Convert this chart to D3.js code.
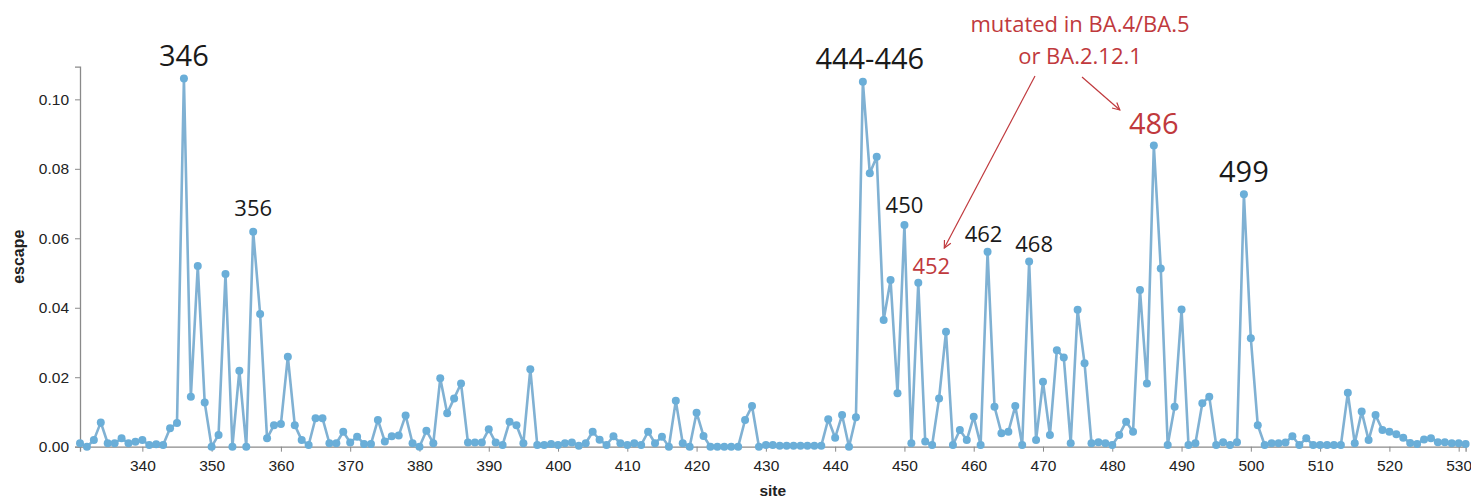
<!DOCTYPE html>
<html>
<head>
<meta charset="utf-8">
<script src="https://cdn.jsdelivr.net/npm/d3@7"></script>
<style>
  html, body { margin: 0; padding: 0; background: #fff; }
  svg { display: block; }
</style>
</head>
<body>
<svg id="chart" width="1471" height="498"></svg>
<script>
// ---- DATA ----
const sites = d3.range(331, 532);
const escapeValues = [
  0.0010, 0.0000, 0.0019, 0.0070, 0.0010, 0.0010, 0.0024, 0.0010, 0.0014, 0.0019, // 331-340
  0.0005, 0.0007, 0.0005, 0.0053, 0.0068, 0.1060, 0.0144, 0.0520, 0.0127, 0.0000, // 341-350
  0.0034, 0.0497, 0.0000, 0.0219, 0.0000, 0.0619, 0.0382, 0.0024, 0.0062, 0.0065, // 351-360
  0.0259, 0.0062, 0.0019, 0.0005, 0.0082, 0.0082, 0.0010, 0.0010, 0.0043, 0.0012, // 361-370
  0.0029, 0.0008, 0.0008, 0.0077, 0.0015, 0.0030, 0.0032, 0.0090, 0.0010, 0.0000, // 371-380
  0.0046, 0.0010, 0.0197, 0.0096, 0.0139, 0.0182, 0.0012, 0.0012, 0.0012, 0.0050, // 381-390
  0.0012, 0.0005, 0.0072, 0.0062, 0.0010, 0.0223, 0.0005, 0.0005, 0.0008, 0.0005, // 391-400
  0.0010, 0.0012, 0.0003, 0.0010, 0.0043, 0.0020, 0.0005, 0.0030, 0.0010, 0.0005, // 401-410
  0.0010, 0.0005, 0.0043, 0.0010, 0.0029, 0.0000, 0.0132, 0.0010, 0.0000, 0.0098, // 411-420
  0.0031, 0.0000, 0.0000, 0.0000, 0.0000, 0.0000, 0.0077, 0.0117, 0.0000, 0.0005, // 421-430
  0.0005, 0.0003, 0.0003, 0.0003, 0.0003, 0.0003, 0.0003, 0.0003, 0.0079, 0.0026, // 431-440
  0.0091, 0.0000, 0.0085, 0.1051, 0.0787, 0.0835, 0.0365, 0.0480, 0.0154, 0.0638, // 441-450
  0.0010, 0.0472, 0.0015, 0.0005, 0.0139, 0.0331, 0.0005, 0.0048, 0.0019, 0.0086, // 451-460
  0.0005, 0.0561, 0.0115, 0.0039, 0.0043, 0.0117, 0.0005, 0.0533, 0.0019, 0.0187, // 461-470
  0.0034, 0.0278, 0.0257, 0.0010, 0.0394, 0.0240, 0.0010, 0.0013, 0.0010, 0.0005, // 471-480
  0.0034, 0.0072, 0.0043, 0.0451, 0.0182, 0.0867, 0.0513, 0.0005, 0.0115, 0.0395, // 481-490
  0.0005, 0.0010, 0.0125, 0.0144, 0.0005, 0.0013, 0.0005, 0.0013, 0.0727, 0.0312, // 491-500
  0.0062, 0.0005, 0.0010, 0.0010, 0.0012, 0.0030, 0.0005, 0.0024, 0.0005, 0.0005, // 501-510
  0.0005, 0.0005, 0.0005, 0.0155, 0.0010, 0.0101, 0.0019, 0.0091, 0.0048, 0.0043, // 511-520
  0.0036, 0.0026, 0.0011, 0.0008, 0.0021, 0.0024, 0.0013, 0.0013, 0.0010, 0.0010, // 521-530
  0.0008                                                                          // 531
];
const xTicks = [340, 350, 360, 370, 380, 390, 400, 410, 420, 430, 440, 450, 460, 470, 480, 490, 500, 510, 520, 530];
const yTicks = [0.00, 0.02, 0.04, 0.06, 0.08, 0.10];
const xDomain = [331, 531];
const yDomain = [0, 0.1094];

// annotated peaks
const labelSites = [346, 356, 445, 450, 452, 462, 468, 486, 499];
const labelTexts = ["346", "356", "444-446", "450", "452", "462", "468", "486", "499"];
const labelMutated = [false, false, false, false, true, false, false, true, false];
const noteLines = ["mutated in BA.4/BA.5", "or BA.2.12.1"];
const noteTargets = [452, 486];

// ---- LAYOUT ----
const svg = d3.select("#chart");
const mLeft = 80, mRight = 1465.6, mTop = 66.7, mBottom = 446.7;

const x = d3.scaleLinear().domain(xDomain).range([mLeft, mRight]);
const y = d3.scaleLinear().domain(yDomain).range([mBottom, mTop]);

const data = sites.map((s, i) => ({ site: s, v: escapeValues[i] }));

const axisColor = "#8a8a8a";
const tickFont = "'Liberation Sans', Arial, Helvetica, sans-serif";

// x axis
const gx = svg.append("g").attr("transform", `translate(0,${mBottom})`)
  .call(d3.axisBottom(x).tickValues(xTicks).tickFormat(d3.format("d")).tickSizeOuter(0).tickSize(5).tickPadding(8));
gx.select(".domain").attr("stroke", axisColor).attr("stroke-width", 1.3);
gx.selectAll(".tick line").attr("stroke", axisColor);
gx.selectAll(".tick text").attr("fill", "#222").style("font-family", tickFont).style("font-size", "15.5px");

// y axis
const gy = svg.append("g").attr("transform", `translate(${mLeft},0)`)
  .call(d3.axisLeft(y).tickValues(yTicks).tickFormat(d3.format(".2f")).tickSizeOuter(0).tickSize(5).tickPadding(6));
gy.select(".domain").attr("stroke", axisColor).attr("stroke-width", 1.3);
gy.selectAll(".tick line").attr("stroke", axisColor);
gy.selectAll(".tick text").attr("fill", "#222").style("font-family", tickFont).style("font-size", "15.5px");

// axis titles
svg.append("text").attr("x", (mLeft + mRight) / 2).attr("y", 496)
  .attr("text-anchor", "middle").style("font-family", tickFont).style("font-size", "15.5px")
  .style("font-weight", "bold").attr("fill", "#222").text("site");
svg.append("text").attr("transform", `translate(24,${(mTop + mBottom) / 2}) rotate(-90)`)
  .attr("text-anchor", "middle").style("font-family", tickFont).style("font-size", "16px")
  .style("font-weight", "bold").attr("fill", "#222").text("escape");

// line + points
const line = d3.line().x(d => x(d.site)).y(d => y(d.v));
svg.append("path").datum(data).attr("d", line)
  .attr("fill", "none").attr("stroke", "#80b1d3").attr("stroke-width", 2.6).attr("stroke-linejoin", "round");
svg.append("g").selectAll("circle").data(data).join("circle")
  .attr("cx", d => x(d.site)).attr("cy", d => y(d.v)).attr("r", 4)
  .attr("fill", "#6aaed8");

// peak labels
const annFont = "'Open Sans', 'Noto Sans', sans-serif";
const red = "#c0393d";
const valOf = s => escapeValues[sites.indexOf(s)];
const sizeOf = t => (t === "346" || t === "444-446" || t === "486" || t === "499") ? 29 : 22;
const dxOf = t => (t === "452" ? 13 : (t === "462" ? -4 : (t === "468" ? 5 : 0)));
const dyOf = t => ({ "346": 13, "356": 16, "444-446": 13, "450": 12, "452": 9, "462": 10, "468": 10, "486": 12, "499": 12 })[t];

labelSites.forEach((s, i) => {
  const t = labelTexts[i];
  const ref = (t === "444-446") ? valOf(444) : valOf(s);
  svg.append("text")
    .attr("x", x(s) + dxOf(t))
    .attr("y", y(ref) - dyOf(t))
    .attr("text-anchor", "middle")
    .style("font-family", annFont)
    .style("font-size", sizeOf(t) + "px")
    .attr("fill", labelMutated[i] ? red : "#1a1a1a")
    .text(t);
});

// note
const noteX = 1080;
svg.append("text").attr("x", noteX).attr("y", 32).attr("text-anchor", "middle")
  .style("font-family", annFont).style("font-size", "22px").attr("fill", red).text(noteLines[0]);
svg.append("text").attr("x", noteX).attr("y", 64).attr("text-anchor", "middle")
  .style("font-family", annFont).style("font-size", "22px").attr("fill", red).text(noteLines[1]);

// arrows
const defs = svg.append("defs");
defs.append("marker").attr("id", "ah").attr("viewBox", "0 0 10 10")
  .attr("refX", 9).attr("refY", 5).attr("markerWidth", 9).attr("markerHeight", 9)
  .attr("orient", "auto-start-reverse").attr("markerUnits", "userSpaceOnUse")
  .append("path").attr("d", "M1,1 L9,5 L1,9").attr("fill", "none").attr("stroke", red).attr("stroke-width", 1.3);

const arrowStarts = [[1035, 76], [1082, 77]];
const arrowEnds = [[x(noteTargets[0]) + 26, 248], [x(noteTargets[1]) - 34, 110]];
arrowStarts.forEach((p, i) => {
  svg.append("line")
    .attr("x1", p[0]).attr("y1", p[1])
    .attr("x2", arrowEnds[i][0]).attr("y2", arrowEnds[i][1])
    .attr("stroke", red).attr("stroke-width", 1.2)
    .attr("marker-end", "url(#ah)");
});
</script>
</body>
</html>
